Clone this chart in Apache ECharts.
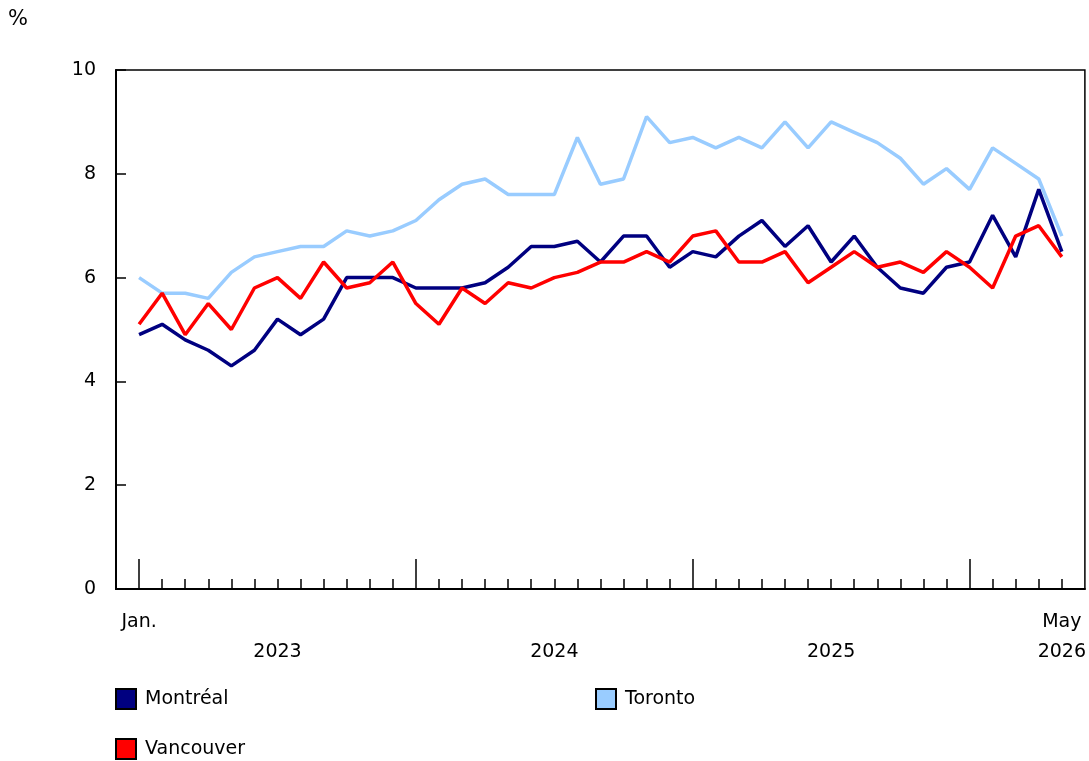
<!DOCTYPE html>
<html><head><meta charset="utf-8">
<script src="https://cdn.jsdelivr.net/npm/echarts@6/dist/echarts.min.js"></script>
<style>html,body{margin:0;padding:0;background:#fff}#c{width:1089px;height:761px}</style>
</head><body><div id="c"></div>
<script>
const months = ['2023-01','2023-02','2023-03','2023-04','2023-05','2023-06','2023-07','2023-08','2023-09','2023-10','2023-11','2023-12',
'2024-01','2024-02','2024-03','2024-04','2024-05','2024-06','2024-07','2024-08','2024-09','2024-10','2024-11','2024-12',
'2025-01','2025-02','2025-03','2025-04','2025-05','2025-06','2025-07','2025-08','2025-09','2025-10','2025-11','2025-12',
'2026-01','2026-02','2026-03','2026-04','2026-05'];
const montreal = [4.9,5.1,4.8,4.6,4.3,4.6,5.2,4.9,5.2,6.0,6.0,6.0,5.8,5.8,5.8,5.9,6.2,6.6,6.6,6.7,6.3,6.8,6.8,6.2,6.5,6.4,6.8,7.1,6.6,7.0,6.3,6.8,6.2,5.8,5.7,6.2,6.3,7.2,6.4,7.7,6.5];
const toronto = [6.0,5.7,5.7,5.6,6.1,6.4,6.5,6.6,6.6,6.9,6.8,6.9,7.1,7.5,7.8,7.9,7.6,7.6,7.6,8.7,7.8,7.9,9.1,8.6,8.7,8.5,8.7,8.5,9.0,8.5,9.0,8.8,8.6,8.3,7.8,8.1,7.7,8.5,8.2,7.9,6.8];
const vancouver = [5.1,5.7,4.9,5.5,5.0,5.8,6.0,5.6,6.3,5.8,5.9,6.3,5.5,5.1,5.8,5.5,5.9,5.8,6.0,6.1,6.3,6.3,6.5,6.3,6.8,6.9,6.3,6.3,6.5,5.9,6.2,6.5,6.2,6.3,6.1,6.5,6.2,5.8,6.8,7.0,6.4];
const monthLabels = {0:'Jan.', 40:'May'};
const yearLabels = {6:'2023', 18:'2024', 30:'2025', 40:'2026'};

const FONT = 'Verdana, "DejaVu Sans", sans-serif';
const FS = 19;
const allIdx = months.map((m,i)=>i);
const majorIdx = months.map((m,i)=>i).filter(i=>months[i].endsWith('-01'));
const toPts = arr => arr.map((v,i)=>[i,v]);

const chart = echarts.init(document.getElementById('c'), null, {renderer:'canvas'});
const baseX = {type:'value', min:-1, max:months.length, position:'bottom', splitLine:{show:false}};
const legendText = {fontSize:FS, color:'#000', fontFamily:FONT, padding:[0,0,0,4]};
chart.setOption({
  animation:false,
  textStyle:{fontFamily:FONT},
  grid:{left:116, right:4, top:70, bottom:172, show:true, borderColor:'#000', borderWidth:1.5, backgroundColor:'transparent'},
  graphic:[{type:'text', left:8, top:9, style:{text:'%', fontSize:FS+2, fontFamily:FONT, fill:'#000'}}],
  xAxis:[
    Object.assign({}, baseX, {
      axisLine:{show:true, onZero:false, lineStyle:{color:'#000', width:2}},
      axisTick:{show:true, inside:true, length:10, customValues:allIdx, lineStyle:{color:'#000', width:1.5}},
      axisLabel:{show:true, customValues:Object.keys(monthLabels).map(Number), formatter:v=>monthLabels[v]||'', margin:24, color:'#000', fontSize:FS, fontFamily:FONT}
    }),
    Object.assign({}, baseX, {
      axisLine:{show:false, onZero:false},
      axisTick:{show:true, inside:true, length:30, customValues:majorIdx, lineStyle:{color:'#000', width:1.5}},
      axisLabel:{show:true, customValues:Object.keys(yearLabels).map(Number), formatter:v=>yearLabels[v]||'', margin:54, color:'#000', fontSize:FS, fontFamily:FONT}
    })
  ],
  yAxis:{type:'value', min:0, max:10, interval:2,
    axisLine:{show:true, onZero:false, lineStyle:{color:'#000', width:2}},
    axisTick:{show:true, inside:true, length:10, lineStyle:{color:'#000', width:1.5}},
    axisLabel:{color:'#000', fontSize:FS, fontFamily:FONT, margin:20},
    splitLine:{show:false}},
  legend:[
    {data:['Montréal'], left:110, top:683, itemWidth:20, itemHeight:20, icon:'rect', textStyle:legendText},
    {data:['Toronto'], left:590, top:683, itemWidth:20, itemHeight:20, icon:'rect', textStyle:legendText},
    {data:['Vancouver'], left:110, top:733, itemWidth:20, itemHeight:20, icon:'rect', textStyle:legendText}
  ],
  series:[
    {name:'Toronto', type:'line', data:toPts(toronto), showSymbol:false, symbol:'none', lineStyle:{color:'#99ccff', width:3.5}, itemStyle:{color:'#99ccff', borderColor:'#000', borderWidth:2}},
    {name:'Montréal', type:'line', data:toPts(montreal), showSymbol:false, symbol:'none', lineStyle:{color:'#000080', width:3.5}, itemStyle:{color:'#000080', borderColor:'#000', borderWidth:2}},
    {name:'Vancouver', type:'line', data:toPts(vancouver), showSymbol:false, symbol:'none', lineStyle:{color:'#ff0000', width:3.5}, itemStyle:{color:'#ff0000', borderColor:'#000', borderWidth:2}}
  ]
});
</script></body></html>
